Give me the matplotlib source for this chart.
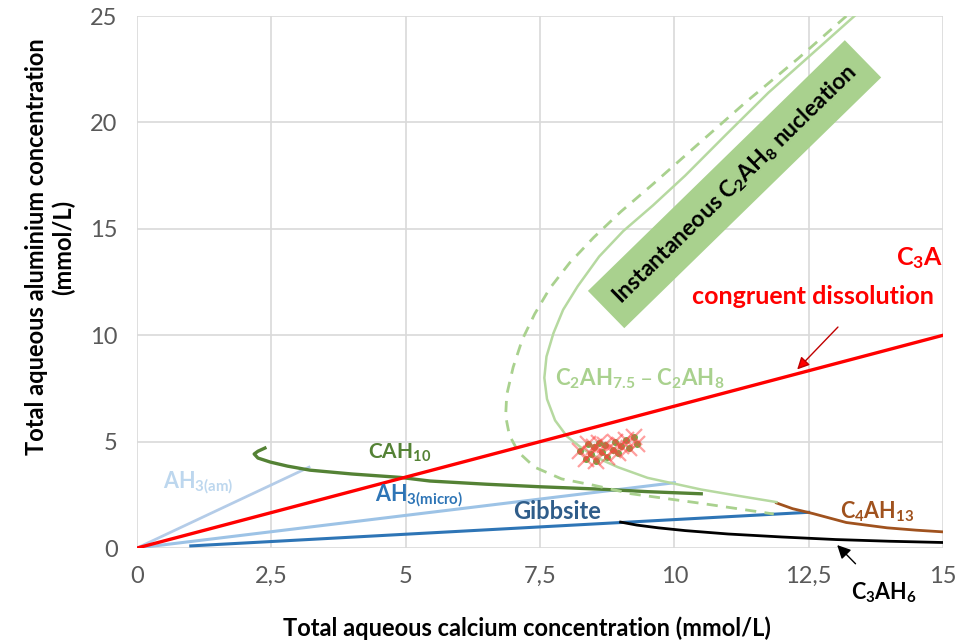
import numpy as np
import matplotlib.pyplot as plt

plt.rcParams['font.family'] = ['Lato', 'DejaVu Sans']
plt.rcParams['mathtext.default'] = 'regular'

# Lignes de stabilité
c3a_x = [0, 15]
c3a_y = [0, 10]

ah3_am_x = [0, 3.2]
ah3_am_y = [0, 3.8]

ah3_micro_x = [0, 10.0]
ah3_micro_y = [0, 3.07]

gibbsite_x = [1.0, 12.5]
gibbsite_y = [0.1, 1.68]

cah10_x = [2.38, 2.25, 2.18, 2.25, 2.48, 2.8, 3.22, 4.0, 4.9, 5.45, 6.5, 7.5, 8.6, 9.5, 10.5]
cah10_y = [4.7, 4.55, 4.42, 4.23, 4.04, 3.85, 3.66, 3.48, 3.32, 3.15, 3.0, 2.88, 2.77, 2.65, 2.55]

c4ah13_x = [11.9, 12.2, 12.58, 13.2, 13.96, 14.5, 15.0]
c4ah13_y = [2.12, 1.85, 1.62, 1.2, 0.95, 0.84, 0.76]

c3ah6_x = [9.0, 9.3, 9.7, 10.2, 11.0, 12.0, 13.0, 14.0, 15.0]
c3ah6_y = [1.22, 1.08, 0.95, 0.82, 0.66, 0.52, 0.4, 0.32, 0.26]

c2ah75_x = [13.35, 12.55, 11.75, 10.95, 10.2, 9.6, 9.05, 8.6, 8.2, 7.93, 7.75, 7.62,
            7.58, 7.63, 7.78, 8.0, 8.3, 8.6, 8.95, 9.5, 10.5, 11.2, 11.9]
c2ah75_y = [25, 23.2, 21.4, 19.4, 17.5, 16.1, 14.9, 13.7, 12.3, 11.2, 10.1, 9.0,
            8.0, 7.0, 6.0, 5.25, 4.65, 4.2, 3.8, 3.3, 2.75, 2.45, 2.16]

c2ah8_x = [13.2, 12.3, 11.35, 10.45, 9.6, 9.0, 8.5, 8.05, 7.68, 7.4, 7.17, 7.0, 6.88,
           6.86, 6.93, 7.1, 7.4, 7.9, 8.5, 9.2, 10.5, 11.85]
c2ah8_y = [25, 23.0, 21.0, 19.0, 17.1, 15.8, 14.6, 13.4, 12.2, 11.0, 9.8, 8.5, 7.2,
           6.2, 5.3, 4.5, 3.8, 3.25, 2.95, 2.55, 2.1, 1.6]

# Points expérimentaux
exp_x = [8.25, 8.35, 8.45, 8.5, 8.55, 8.65, 8.7, 8.75, 8.85, 8.9, 8.95, 9.0,
         9.1, 9.15, 9.25, 9.3, 8.6, 8.4]
exp_y = [4.55, 4.2, 4.4, 4.75, 4.1, 4.5, 4.85, 4.3, 4.6, 5.0, 4.45, 4.8,
         5.1, 4.7, 5.2, 4.9, 4.95, 4.9]

xticks = [0, 2.5, 5, 7.5, 10, 12.5, 15]
xtick_labels = ['0', '2,5', '5', '7,5', '10', '12,5', '15']
yticks = [0, 5, 10, 15, 20, 25]

fig = plt.figure(figsize=(9.57, 6.44), dpi=100)
ax = fig.add_axes([0.1432, 0.149, 0.8422, 0.826])

ax.plot(ah3_am_x, ah3_am_y, color='#B4CCE8', lw=2)
ax.plot(ah3_micro_x, ah3_micro_y, color='#9DC3E6', lw=2.2)
ax.plot(gibbsite_x, gibbsite_y, color='#2E75B6', lw=2.2)
ax.plot(c3ah6_x, c3ah6_y, color='black', lw=2)
ax.plot(c4ah13_x, c4ah13_y, color='#A0521E', lw=2)
ax.plot(cah10_x, cah10_y, color='#548235', lw=2.4)
ax.plot(c2ah8_x, c2ah8_y, color='#A9D18E', lw=2, ls=(0, (4, 3)))
ax.plot(c2ah75_x, c2ah75_y, color='#B6D9A0', lw=1.8)
ax.plot(c3a_x, c3a_y, color='#FF0000', lw=2.4)

ax.plot(exp_x, exp_y, 'o', color='#70AD47', ms=4, zorder=4)
ax.plot(exp_x, exp_y, 'x', color='#FF4040', alpha=0.5, ms=11, mew=1.6, zorder=5)

# Textes
ax.text(15, 13.63, 'C$_3$A', color='#FF0000', fontsize=18, fontweight='bold',
        ha='right', va='center')
ax.text(12.58, 11.84, 'congruent dissolution', color='#FF0000', fontsize=18,
        fontweight='bold', ha='center', va='center')
ax.annotate('', xy=(12.25, 8.3), xytext=(13.08, 10.48),
            arrowprops=dict(arrowstyle='-|>', color='#C00000', lw=1,
                            mutation_scale=18, fc='#FF0000'))

ax.text(7.78, 7.95, 'C$_2$AH$_{7.5}$ – C$_2$AH$_8$', color='#A9D18E', fontsize=16,
        fontweight='bold', ha='left', va='center')
ax.text(11.12, 17.1, 'Instantaneous C$_2$AH$_8$ nucleation', color='black',
        fontsize=16.5, fontweight='bold', ha='center', va='center', rotation=44.3,
        rotation_mode='anchor',
        bbox=dict(boxstyle='square,pad=0.6', fc='#A9D18E', ec='none'))

ax.text(4.3, 4.46, 'CAH$_{10}$', color='#548235', fontsize=15, fontweight='bold',
        ha='left', va='center')
ax.text(0.48, 3.05, 'AH$_{3(am)}$', color='#BDD7EE', fontsize=15.5, fontweight='bold',
        ha='left', va='center')
ax.text(4.43, 2.44, 'AH$_{3(micro)}$', color='#2E75B6', fontsize=15.5, fontweight='bold',
        ha='left', va='center')
ax.text(7.82, 1.7, 'Gibbsite', color='#2F5D8A', fontsize=17, fontweight='bold',
        ha='center', va='center')
ax.text(13.77, 1.7, 'C$_4$AH$_{13}$', color='#A0521E', fontsize=15.5, fontweight='bold',
        ha='center', va='center')
ax.annotate('C$_3$AH$_6$', xy=(13.03, 0.14), xytext=(13.9, -2.1), color='black',
            fontsize=15.5, fontweight='bold', ha='center', va='center',
            annotation_clip=False,
            arrowprops=dict(arrowstyle='-|>', color='black', lw=1,
                            mutation_scale=20, shrinkA=14, shrinkB=0))

ax.set_xlim(0, 15)
ax.set_ylim(0, 25)
ax.set_xticks(xticks)
ax.set_xticklabels(xtick_labels)
ax.set_yticks(yticks)
ax.tick_params(length=0, labelsize=17, labelcolor='#595959')
ax.tick_params(axis='x', pad=13)
ax.tick_params(axis='y', pad=14)
for s in ax.spines.values():
    s.set_visible(False)
ax.grid(True, color='#D9D9D9', lw=1.2)
ax.set_axisbelow(True)

ax.set_xlabel('Total aqueous calcium concentration (mmol/L)', fontsize=17,
              fontweight='bold')
ax.set_ylabel('Total aqueous aluminium concentration\n(mmol/L)', fontsize=17,
              fontweight='bold')
ax.xaxis.set_label_coords(0.484, -0.128)
ax.yaxis.set_label_coords(-0.077, 0.566)

fig.savefig('out.png', dpi=100)
